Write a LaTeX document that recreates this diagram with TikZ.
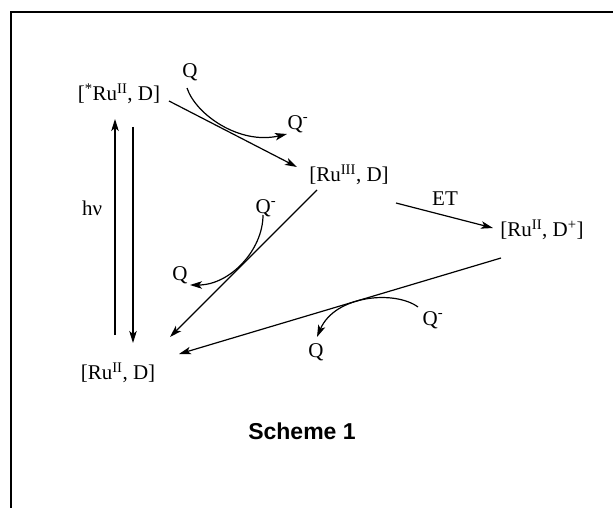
\documentclass[tikz,border=0pt]{standalone}
\usepackage{fontspec}
\setmainfont{Liberation Serif}
\newfontfamily\schemefont{Liberation Sans}
\usetikzlibrary{arrows.meta}
\begin{document}
\begin{tikzpicture}[x=1pt,y=-1pt,
  lbl/.style={font=\fontsize{21}{25}\selectfont, inner sep=0pt},
  conn/.style={line width=1.2pt, -{Stealth[length=12pt,width=7.5pt,inset=3pt]}},
  frame/.style={line width=2pt}]
\useasboundingbox (0,0) rectangle (613,508);
% frame
\coordinate (fr1) at (613,12);
\coordinate (fr2) at (11,12);
\coordinate (fr3) at (11,508);
\draw[frame] (fr1) -- (fr2) -- (fr3);
% species
\node[lbl] (ex) at (119,94) {[\textsuperscript{*}Ru\textsuperscript{II}, D]};
\node[lbl] (r3) at (349,175) {[Ru\textsuperscript{III}, D]};
\node[lbl] (dp) at (542,230) {[Ru\textsuperscript{II}, D\textsuperscript{+}]};
\node[lbl] (gs) at (118,373) {[Ru\textsuperscript{II}, D]};
\node[lbl] (hv) at (92,208) {hν};
\node[lbl] (et) at (445,199) {ET};
\node[lbl] (q1) at (190,72) {Q};
\node[lbl] (qm1) at (298,124) {Q\textsuperscript{-}};
\node[lbl] (qm2) at (266,208) {Q\textsuperscript{-}};
\node[lbl] (q2) at (180,275) {Q};
\node[lbl] (qm3) at (433,320) {Q\textsuperscript{-}};
\node[lbl] (q3) at (316,352) {Q};
\node[font=\schemefont\bfseries\fontsize{23}{27}\selectfont, inner sep=0pt] (sc) at (302,431) {Scheme 1};
% connector ends
\coordinate (upA) at (115,335);
\coordinate (upB) at (115,119);
\coordinate (dnA) at (133,127);
\coordinate (dnB) at (133,343);
\coordinate (m1A) at (169,101);
\coordinate (m1B) at (297,167);
\coordinate (etA) at (396,203);
\coordinate (etB) at (493,228);
\coordinate (m2A) at (317,190);
\coordinate (m2B) at (170,337);
\coordinate (m3A) at (501,258);
\coordinate (m3B) at (179,354);
\coordinate (c1A) at (187,88);
\coordinate (c1B) at (287,134);
\coordinate (c2A) at (263,215);
\coordinate (c2B) at (190,285);
\coordinate (c3A) at (418,307);
\coordinate (c3B) at (317,337);
% arrows
\draw[conn] (upA) -- (upB);
\draw[conn] (dnA) -- (dnB);
\draw[conn] (m1A) -- (m1B);
\draw[conn] (etA) -- (etB);
\draw[conn] (m2A) -- (m2B);
\draw[conn] (m3A) -- (m3B);
\draw[conn] (c1A) .. controls (196,115) and (240,145) .. (c1B);
\draw[conn] (c2A) .. controls (263,250) and (230,285) .. (c2B);
\draw[conn] (c3A) .. controls (395,290) and (335,295) .. (c3B);
\end{tikzpicture}
\end{document}
